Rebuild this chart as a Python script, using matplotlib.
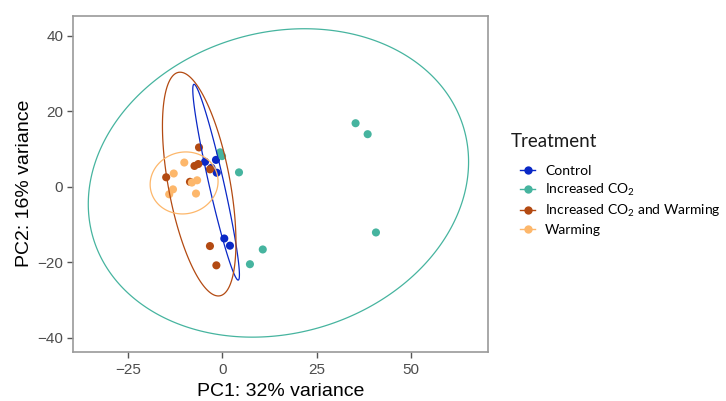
import numpy as np
import matplotlib
matplotlib.use("Agg")
import matplotlib.pyplot as plt
from matplotlib.lines import Line2D
from matplotlib.patches import Polygon

# Données
groups = ["Control", "Increased CO$_2$", "Increased CO$_2$ and Warming", "Warming"]
colors = ["#0a28c6", "#46b49f", "#b34a12", "#fdb76b"]

control_x = [-4.6, -1.7, -2.9, -1.5, 0.5, 2.0]
control_y = [6.6, 7.1, 5.0, 3.7, -13.7, -15.6]
co2_x = [-0.6, -0.1, 4.4, 10.7, 7.3, 35.3, 38.5, 40.7]
co2_y = [9.1, 8.1, 3.8, -16.6, -20.5, 16.8, 13.9, -12.1]
co2w_x = [-6.2, -7.4, -6.4, -14.9, -8.6, -3.3, -3.3, -1.6]
co2w_y = [10.4, 5.5, 6.0, 2.5, 1.3, 4.6, -15.7, -20.8]
warm_x = [-10.1, -12.9, -13.1, -14.1, -6.7, -8.1, -7.0]
warm_y = [6.4, 3.5, -0.7, -2.0, 1.7, 1.1, -1.8]

# ellipses : centre, demi-étendues horizontale / verticale, corrélation
ell_cx = [-1.67, 14.85, -6.15, -10.15]
ell_cy = [1.2, 1.0, 0.7, 1.0]
ell_rx = [6.18, 50.4, 9.74, 9.0]
ell_ry = [25.9, 40.8, 29.6, 8.2]
ell_rho = [-0.945, 0.137, -0.52, 0.05]

xs = [control_x, co2_x, co2w_x, warm_x]
ys = [control_y, co2_y, co2w_y, warm_y]

plt.rcParams["mathtext.default"] = "regular"

fig = plt.figure(figsize=(7.26, 4.01), dpi=100)
ax = fig.add_axes([73 / 726, 1 - 351.7 / 401, (488 - 73) / 726, (351.7 - 15.7) / 401])

t = np.linspace(0, 2 * np.pi, 360, endpoint=False)
for i in range(4):
    ax.scatter(xs[i], ys[i], s=34, color=colors[i], edgecolors="none", zorder=3)
    rx, ry, rho = ell_rx[i], ell_ry[i], ell_rho[i]
    cov = np.array([[rx**2, rho * rx * ry], [rho * rx * ry, ry**2]])
    L = np.linalg.cholesky(cov)
    pts = L @ np.vstack([np.cos(t), np.sin(t)])
    xy = np.column_stack([pts[0] + ell_cx[i], pts[1] + ell_cy[i]])
    ax.add_patch(Polygon(xy, closed=True, fill=False, edgecolor=colors[i], lw=0.9, zorder=4))

# Mise en forme
ax.set_xlim(-39.6, 70.4)
ax.set_ylim(-43.65, 45.25)
ax.set_xticks([-25, 0, 25, 50])
ax.set_yticks([-40, -20, 0, 20, 40])
ax.set_xticklabels(["\u221225", "0", "25", "50"])
ax.set_yticklabels(["\u221240", "\u221220", "0", "20", "40"])
for s in ax.spines.values():
    s.set_color("#9a9a9a")
    s.set_linewidth(1.2)
ax.tick_params(length=4, width=1, color="#555555", pad=3,
               labelsize=11, labelcolor="#4d4d4d")
ax.tick_params(axis="x", pad=4)
for lab in ax.get_xticklabels() + ax.get_yticklabels():
    lab.set_family("Liberation Sans")

ax.set_xlabel("PC1: 32% variance", fontsize=14, family="Liberation Sans", labelpad=4.5)
ax.set_ylabel("PC2: 16% variance", fontsize=14, family="Liberation Sans", labelpad=3)

# Légende
fig.text(511 / 726, 1 - 147 / 401, "Treatment", fontsize=13.5, family="Lato", color="#1a1a1a")
handles = [Line2D([0], [0], color=c, lw=1, marker="o", markersize=6, markeredgewidth=0)
           for c in colors]
leg = fig.legend(handles, groups, loc="upper left", bbox_to_anchor=(520 / 726, 1 - 165 / 401),
                 frameon=False, handlelength=1.1, handletextpad=0.7, labelspacing=0.35,
                 borderpad=0, borderaxespad=0, prop={"family": "Lato", "size": 10})

fig.savefig("out.png", dpi=100)
